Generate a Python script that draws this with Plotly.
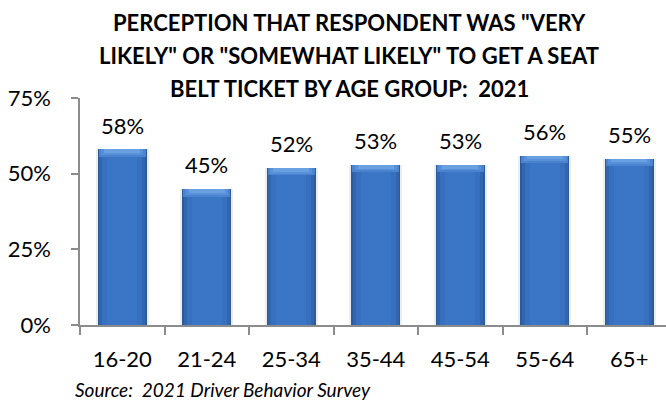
import plotly.graph_objects as go

# Survey results by age group
age_groups = ["16-20", "21-24", "25-34", "35-44", "45-54", "55-64", "65+"]
pct_likely = [58, 45, 52, 53, 53, 56, 55]
y_ticks = [0, 25, 50, 75]
y_tick_labels = ["0%", "25%", "50%", "75%"]

title_lines = [
    'PERCEPTION THAT RESPONDENT WAS "VERY',
    'LIKELY" OR "SOMEWHAT LIKELY" TO GET A SEAT',
    'BELT TICKET BY AGE GROUP:  2021',
]
source_text = "Source:  2021 Driver Behavior Survey"

FONT = "Lato"
W, H = 666, 402
M_L, M_R, M_T, M_B = 80, 0, 98, 77
plot_h = H - M_T - M_B
plot_w = W - M_L - M_R
cat_px = 84.5  # pixel width of one category slot

fig = go.Figure()

# Soft shadow behind each bar
fig.add_bar(x=age_groups, y=pct_likely, width=0.63,
            marker=dict(color="rgba(0,0,0,0.07)", line_width=0), hoverinfo="skip")
# Layered bars give the cylinder-like shading: dark edges, lighter core
for w, col in [(0.58, "#2B5B9C"), (0.54, "#3165AE"), (0.47, "#3770BE"), (0.36, "#3B76C6")]:
    fig.add_bar(x=age_groups, y=pct_likely, width=w,
                marker=dict(color=col, line_width=0), hoverinfo="skip")

# Lighter bevel band along the top of each bar, narrowing downwards
bevel = 2.6
for w, col, frac in [(0.56, "#4A84D0", 1.0), (0.50, "#5890DA", 0.75), (0.43, "#68A0E2", 0.5)]:
    h = bevel * frac
    fig.add_bar(x=age_groups, y=[h] * len(pct_likely),
                base=[v - h for v in pct_likely], width=w,
                marker=dict(color=col, line_width=0), hoverinfo="skip")

# Value labels above bars
for g, v in zip(age_groups, pct_likely):
    fig.add_annotation(x=g, y=v, text=f"{v}%", showarrow=False,
                       yanchor="middle", yshift=24,
                       font=dict(family=FONT, size=22, color="#000000"))

# Three-line title
title_y_px = [22, 55, 88]
for line, ypx in zip(title_lines, title_y_px):
    fig.add_annotation(xref="paper", yref="paper",
                       x=(349 - M_L) / plot_w, y=(H - M_B - ypx) / plot_h,
                       text=f"<b>{line}</b>", showarrow=False,
                       xanchor="center", yanchor="middle",
                       font=dict(family=FONT, size=22, color="#000000"))

# Source note
fig.add_annotation(xref="paper", yref="paper",
                   x=(73 - M_L) / plot_w, y=(H - M_B - 389) / plot_h,
                   text=f"<i>{source_text}</i>", showarrow=False,
                   xanchor="left", yanchor="middle",
                   font=dict(family=FONT, size=19, color="#000000"))

fig.update_layout(
    width=W, height=H,
    margin=dict(l=M_L, r=M_R, t=M_T, b=M_B),
    barmode="overlay",
    showlegend=False,
    plot_bgcolor="white", paper_bgcolor="white",
    bargap=0,
)
fig.update_xaxes(
    type="category",
    range=[-0.5, -0.5 + plot_w / cat_px],
    showline=True, linecolor="#8C8C8C", linewidth=1.5,
    ticks="outside", tickson="boundaries", ticklen=8, tickcolor="#8C8C8C", tickwidth=1.5,
    ticklabelstandoff=14,
    tickfont=dict(family=FONT, size=22, color="#000000"),
    showgrid=False, zeroline=False, fixedrange=True,
)
fig.update_yaxes(
    range=[0, 75],
    tickvals=y_ticks, ticktext=y_tick_labels,
    showline=True, linecolor="#8C8C8C", linewidth=1.5,
    ticks="outside", ticklen=7, tickcolor="#8C8C8C", tickwidth=1.5,
    ticklabelstandoff=16,
    tickfont=dict(family=FONT, size=22, color="#000000"),
    showgrid=False, zeroline=False, fixedrange=True,
)

fig.write_html("out.html")
